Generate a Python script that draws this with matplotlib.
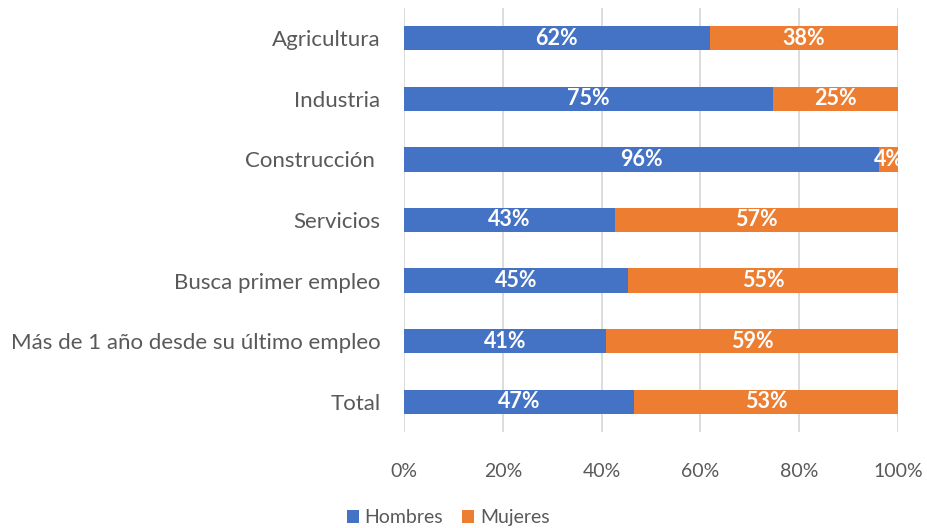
import numpy as np
import matplotlib.pyplot as plt

categorias = ['Agricultura', 'Industria', 'Construcción ', 'Servicios',
              'Busca primer empleo', 'Más de 1 año desde su último empleo',
              'Total']
hombres = [0.619, 0.747, 0.962, 0.427, 0.453, 0.409, 0.466]
mujeres = [0.381, 0.253, 0.038, 0.573, 0.547, 0.591, 0.534]
etq_hombres = ['62%', '75%', '96%', '43%', '45%', '41%', '47%']
etq_mujeres = ['38%', '25%', '4%', '57%', '55%', '59%', '53%']

plt.rcParams['font.family'] = ['Lato', 'DejaVu Sans']
azul = '#4472C4'
naranja = '#ED7D31'
gris = '#595959'

fig = plt.figure(figsize=(9.28, 5.28), dpi=100)
ax = fig.add_axes([404/928, 96/528, 494/928, 424/528])

y = np.arange(len(categorias))[::-1]
h = np.array(hombres)
m = np.array(mujeres)
ax.barh(y, h, height=0.4, color=azul, label='Hombres', zorder=2)
ax.barh(y, m, left=h, height=0.4, color=naranja, label='Mujeres', zorder=2)

for yi, hi, mi, th, tm in zip(y, h, m, etq_hombres, etq_mujeres):
    ax.text(hi/2, yi, th, ha='center', va='center', color='white',
            fontsize=15.5, fontweight='bold', zorder=3)
    ax.text(hi + mi/2, yi, tm, ha='center', va='center', color='white',
            fontsize=15.5, fontweight='bold', zorder=3, clip_on=False)

ax.set_xlim(0, 1)
ax.set_ylim(-0.5, len(categorias) - 0.5)
ax.set_yticks(y)
ax.set_yticklabels(categorias)
ax.set_xticks(np.linspace(0, 1, 6))
ax.set_xticklabels(['0%', '20%', '40%', '60%', '80%', '100%'])
ax.tick_params(axis='both', length=0, colors=gris)
ax.tick_params(axis='x', pad=22, labelsize=14)
ax.tick_params(axis='y', pad=17, labelsize=16)
ax.grid(axis='x', color='#d9d9d9', linewidth=1.3, zorder=0)
for s in ax.spines.values():
    s.set_visible(False)

leg = fig.legend(loc='lower center', bbox_to_anchor=(0.483, -0.03), ncol=2,
                 frameon=False, fontsize=14, handlelength=0.6,
                 handleheight=0.6, handletextpad=0.3, columnspacing=1.0)
for t in leg.get_texts():
    t.set_color(gris)

fig.savefig('out.png', dpi=100)
